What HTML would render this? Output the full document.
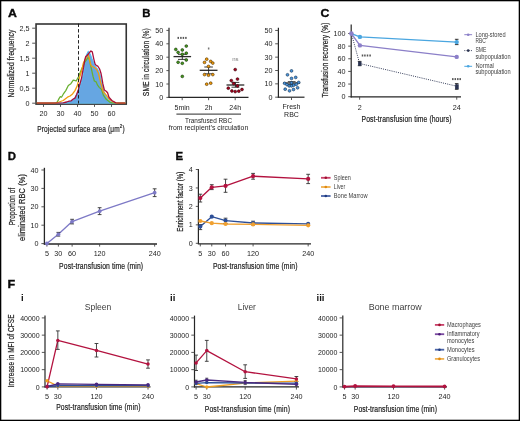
<!DOCTYPE html>
<html><head><meta charset="utf-8"><style>
html,body{margin:0;padding:0;background:#fff;}
body{width:520px;height:421px;overflow:hidden;}
svg{display:block;font-family:"Liberation Sans", sans-serif;will-change:transform;}
</style></head><body>
<svg width="520" height="421" viewBox="0 0 520 421">
<rect x="0" y="0" width="520" height="421" fill="#fff"/>
<text transform="translate(7.9,16.9) scale(1.08,1)" x="0" y="0" font-size="11.4" font-weight="bold" fill="#0a0a0a" stroke="#0a0a0a" stroke-width="0.35">A</text>
<text transform="translate(142.2,17.1) scale(1.0,1)" x="0" y="0" font-size="11.4" font-weight="bold" fill="#0a0a0a" stroke="#0a0a0a" stroke-width="0.35">B</text>
<text transform="translate(320.5,17.1) scale(1.08,1)" x="0" y="0" font-size="11.4" font-weight="bold" fill="#0a0a0a" stroke="#0a0a0a" stroke-width="0.35">C</text>
<text transform="translate(7.8,160.0) scale(1.0,1)" x="0" y="0" font-size="11.4" font-weight="bold" fill="#0a0a0a" stroke="#0a0a0a" stroke-width="0.35">D</text>
<text transform="translate(175.5,160.0) scale(1.0,1)" x="0" y="0" font-size="11.4" font-weight="bold" fill="#0a0a0a" stroke="#0a0a0a" stroke-width="0.35">E</text>
<text transform="translate(7.4,287.9) scale(1.1,1)" x="0" y="0" font-size="11.4" font-weight="bold" fill="#0a0a0a" stroke="#0a0a0a" stroke-width="0.35">F</text>
<rect x="36.05" y="24.0" width="90.20" height="80.10" fill="none" stroke="#333" stroke-width="1.6"/>
<clipPath id="clipA"><rect x="36.8" y="24.8" width="88.6" height="79.0"/></clipPath>
<path d="M 53.70,103.20 L 63.90,102.90 L 67.47,102.00 L 71.55,100.80 L 74.95,98.10 L 77.33,93.00 L 80.05,86.40 L 82.43,78.00 L 83.62,71.70 L 84.98,61.20 L 86.34,55.20 L 88.21,51.60 L 90.25,54.00 L 92.12,59.10 L 94.16,63.90 L 95.52,66.90 L 97.90,69.60 L 99.60,73.20 L 101.30,80.70 L 103.34,89.70 L 105.55,95.70 L 108.10,99.60 L 111.50,102.00 L 114.90,103.20 L 116.60,103.20 Z" fill="#66a6e2" stroke="#56bdf2" stroke-width="1.1" clip-path="url(#clipA)"/>
<polyline points="26.50,103.20 56.25,103.20 57.44,101.70 59.14,98.40 60.33,96.60 61.52,97.20 63.22,94.20 65.77,90.60 68.32,85.50 70.87,83.70 73.25,80.10 74.44,80.40 76.14,81.00 78.35,77.10 79.88,73.20 81.75,68.70 84.98,61.80 88.21,57.30 89.23,59.10 90.25,63.90 91.44,69.00 92.97,76.20 94.33,81.00 96.20,81.90 97.56,85.20 99.43,87.60 101.47,89.40 103.34,95.10 106.23,99.30 109.97,102.30 113.20,103.20 137.00,103.20" fill="none" stroke="#68b030" stroke-width="1.25" stroke-linejoin="round" clip-path="url(#clipA)"/>
<polyline points="26.50,103.20 55.40,103.20 59.14,102.00 63.22,100.50 67.47,97.20 70.02,96.00 72.57,93.90 74.95,90.60 76.99,86.40 78.69,80.40 80.39,74.70 81.92,69.60 83.28,63.30 86.34,56.70 88.21,54.90 89.23,58.20 90.25,63.30 91.44,66.00 94.16,67.50 96.37,69.00 97.73,71.70 98.58,73.50 99.94,79.80 101.47,85.50 103.34,91.80 106.23,95.10 108.95,99.00 112.86,101.70 116.60,103.20 137.00,103.20" fill="none" stroke="#f39a10" stroke-width="1.3" stroke-linejoin="round" clip-path="url(#clipA)"/>
<polyline points="26.50,103.20 60.50,103.20 63.22,102.90 66.62,102.00 69.17,101.10 71.21,100.80 72.91,99.30 74.95,98.10 76.65,94.50 78.35,89.70 79.88,84.00 81.58,78.00 82.43,73.20 83.62,67.20 84.64,60.60 85.66,56.70 87.02,55.50 89.23,52.80 90.93,51.00 92.29,51.90 93.82,59.10 95.01,63.90 96.37,65.70 97.73,66.00 99.60,69.00 100.96,73.20 101.81,77.70 102.83,83.70 104.36,90.00 106.23,91.20 107.59,92.70 108.95,97.20 111.84,100.50 115.75,102.90 118.30,103.20 137.00,103.20" fill="none" stroke="#a80f3c" stroke-width="1.3" stroke-linejoin="round" clip-path="url(#clipA)"/>
<line x1="78.5" y1="23.6" x2="78.5" y2="103.5" stroke="#1a1a1a" stroke-width="0.95" stroke-dasharray="3.4,2.1"/>
<line x1="32.2" y1="103.2" x2="35.5" y2="103.2" stroke="#444444" stroke-width="0.9" />
<text x="29.6" y="105.8" font-size="7.2" text-anchor="end" font-weight="normal" fill="#242424" >0</text>
<line x1="32.2" y1="88.2" x2="35.5" y2="88.2" stroke="#444444" stroke-width="0.9" />
<text x="29.6" y="90.8" font-size="7.2" text-anchor="end" font-weight="normal" fill="#242424" >0,5</text>
<line x1="32.2" y1="73.2" x2="35.5" y2="73.2" stroke="#444444" stroke-width="0.9" />
<text x="29.6" y="75.8" font-size="7.2" text-anchor="end" font-weight="normal" fill="#242424" >1</text>
<line x1="32.2" y1="58.2" x2="35.5" y2="58.2" stroke="#444444" stroke-width="0.9" />
<text x="29.6" y="60.800000000000004" font-size="7.2" text-anchor="end" font-weight="normal" fill="#242424" >1,5</text>
<line x1="32.2" y1="43.2" x2="35.5" y2="43.2" stroke="#444444" stroke-width="0.9" />
<text x="29.6" y="45.800000000000004" font-size="7.2" text-anchor="end" font-weight="normal" fill="#242424" >2</text>
<line x1="32.2" y1="28.200000000000003" x2="35.5" y2="28.200000000000003" stroke="#444444" stroke-width="0.9" />
<text x="29.6" y="30.800000000000004" font-size="7.2" text-anchor="end" font-weight="normal" fill="#242424" >2,5</text>
<line x1="43.5" y1="104.5" x2="43.5" y2="106.9" stroke="#444444" stroke-width="0.9" />
<text x="43.5" y="116.3" font-size="7.2" text-anchor="middle" font-weight="normal" fill="#242424" >20</text>
<line x1="60.5" y1="104.5" x2="60.5" y2="106.9" stroke="#444444" stroke-width="0.9" />
<text x="60.5" y="116.3" font-size="7.2" text-anchor="middle" font-weight="normal" fill="#242424" >30</text>
<line x1="77.5" y1="104.5" x2="77.5" y2="106.9" stroke="#444444" stroke-width="0.9" />
<text x="77.5" y="116.3" font-size="7.2" text-anchor="middle" font-weight="normal" fill="#242424" >40</text>
<line x1="94.5" y1="104.5" x2="94.5" y2="106.9" stroke="#444444" stroke-width="0.9" />
<text x="94.5" y="116.3" font-size="7.2" text-anchor="middle" font-weight="normal" fill="#242424" >50</text>
<line x1="111.5" y1="104.5" x2="111.5" y2="106.9" stroke="#444444" stroke-width="0.9" />
<text x="111.5" y="116.3" font-size="7.2" text-anchor="middle" font-weight="normal" fill="#242424" >60</text>
<text transform="translate(37.2,131.5) scale(0.728,1)" x="0" y="0" font-size="9.0" text-anchor="start" font-weight="normal" fill="#242424" stroke="#242424" stroke-width="0.22" textLength="120.19" lengthAdjust="spacing" >Projected surface area (μm<tspan font-size="6.2" dy="-3.4">2</tspan><tspan dy="3.4">)</tspan></text>
<text transform="translate(13.8,63.5) rotate(-90) scale(0.771,1)" x="0" y="0" font-size="8.8" text-anchor="middle" font-weight="normal" fill="#242424" stroke="#242424" stroke-width="0.22" textLength="88.20" lengthAdjust="spacing" >Normalized frequency</text>
<line x1="169" y1="27.8" x2="169" y2="98" stroke="#262626" stroke-width="1.2" />
<line x1="168.4" y1="97.4" x2="248.5" y2="97.4" stroke="#262626" stroke-width="1.2" />
<line x1="166.4" y1="97.4" x2="169" y2="97.4" stroke="#444444" stroke-width="0.9" />
<text x="163.2" y="100.0" font-size="7.2" text-anchor="end" font-weight="normal" fill="#242424" >0</text>
<line x1="166.4" y1="84.0" x2="169" y2="84.0" stroke="#444444" stroke-width="0.9" />
<text x="163.2" y="86.6" font-size="7.2" text-anchor="end" font-weight="normal" fill="#242424" >10</text>
<line x1="166.4" y1="70.60000000000001" x2="169" y2="70.60000000000001" stroke="#444444" stroke-width="0.9" />
<text x="163.2" y="73.2" font-size="7.2" text-anchor="end" font-weight="normal" fill="#242424" >20</text>
<line x1="166.4" y1="57.2" x2="169" y2="57.2" stroke="#444444" stroke-width="0.9" />
<text x="163.2" y="59.800000000000004" font-size="7.2" text-anchor="end" font-weight="normal" fill="#242424" >30</text>
<line x1="166.4" y1="43.800000000000004" x2="169" y2="43.800000000000004" stroke="#444444" stroke-width="0.9" />
<text x="163.2" y="46.400000000000006" font-size="7.2" text-anchor="end" font-weight="normal" fill="#242424" >40</text>
<line x1="166.4" y1="30.400000000000006" x2="169" y2="30.400000000000006" stroke="#444444" stroke-width="0.9" />
<text x="163.2" y="33.00000000000001" font-size="7.2" text-anchor="end" font-weight="normal" fill="#242424" >50</text>
<line x1="182.2" y1="97.4" x2="182.2" y2="100.2" stroke="#444444" stroke-width="0.9" />
<text x="182.2" y="109.6" font-size="7.0" text-anchor="middle" font-weight="normal" fill="#242424" >5min</text>
<line x1="208.6" y1="97.4" x2="208.6" y2="100.2" stroke="#444444" stroke-width="0.9" />
<text x="208.6" y="109.6" font-size="7.0" text-anchor="middle" font-weight="normal" fill="#242424" >2h</text>
<line x1="235.2" y1="97.4" x2="235.2" y2="100.2" stroke="#444444" stroke-width="0.9" />
<text x="235.2" y="109.6" font-size="7.0" text-anchor="middle" font-weight="normal" fill="#242424" >24h</text>
<line x1="176.4" y1="114.2" x2="241" y2="114.2" stroke="#555" stroke-width="1.2" />
<text x="208.5" y="123.1" font-size="7.0" text-anchor="middle" font-weight="normal" fill="#242424" textLength="47" lengthAdjust="spacingAndGlyphs" >Transfused RBC</text>
<text x="208.5" y="130.3" font-size="7.0" text-anchor="middle" font-weight="normal" fill="#242424" textLength="79.5" lengthAdjust="spacingAndGlyphs" >from recipient’s circulation</text>
<text transform="translate(149.4,62.2) rotate(-90) scale(0.762,1)" x="0" y="0" font-size="8.8" text-anchor="middle" font-weight="normal" fill="#242424" stroke="#242424" stroke-width="0.22" textLength="89.24" lengthAdjust="spacing" >SME in circulation (%)</text>
<line x1="173.5" y1="56.6" x2="191.10000000000002" y2="56.6" stroke="#2a2a2a" stroke-width="1.3" />
<line x1="178.0" y1="54.3" x2="186.60000000000002" y2="54.3" stroke="#222" stroke-width="0.9" />
<line x1="178.0" y1="59.4" x2="186.60000000000002" y2="59.4" stroke="#222" stroke-width="0.9" />
<line x1="182.3" y1="54.3" x2="182.3" y2="59.4" stroke="#222" stroke-width="0.9" />
<line x1="199.7" y1="70.3" x2="217.5" y2="70.3" stroke="#2a2a2a" stroke-width="1.3" />
<line x1="204.29999999999998" y1="67.0" x2="212.9" y2="67.0" stroke="#222" stroke-width="0.9" />
<line x1="204.29999999999998" y1="73.8" x2="212.9" y2="73.8" stroke="#222" stroke-width="0.9" />
<line x1="208.6" y1="67.0" x2="208.6" y2="73.8" stroke="#222" stroke-width="0.9" />
<line x1="226.5" y1="85.0" x2="244.3" y2="85.0" stroke="#2a2a2a" stroke-width="1.3" />
<line x1="231.5" y1="82.4" x2="239.3" y2="82.4" stroke="#222" stroke-width="0.9" />
<line x1="231.5" y1="87.2" x2="239.3" y2="87.2" stroke="#222" stroke-width="0.9" />
<line x1="235.4" y1="82.4" x2="235.4" y2="87.2" stroke="#222" stroke-width="0.9" />
<line x1="283.3" y1="83.0" x2="300.09999999999997" y2="83.0" stroke="#2a2a2a" stroke-width="1.3" />
<line x1="287.8" y1="81.7" x2="295.59999999999997" y2="81.7" stroke="#222" stroke-width="0.9" />
<line x1="287.8" y1="84.6" x2="295.59999999999997" y2="84.6" stroke="#222" stroke-width="0.9" />
<line x1="291.7" y1="81.7" x2="291.7" y2="84.6" stroke="#222" stroke-width="0.9" />
<circle cx="186.30" cy="46.10" r="1.4" fill="#44991c" stroke="#1a300c" stroke-width="0.6"/>
<circle cx="175.80" cy="49.40" r="1.4" fill="#44991c" stroke="#1a300c" stroke-width="0.6"/>
<circle cx="182.30" cy="50.00" r="1.4" fill="#44991c" stroke="#1a300c" stroke-width="0.6"/>
<circle cx="178.10" cy="52.40" r="1.4" fill="#44991c" stroke="#1a300c" stroke-width="0.6"/>
<circle cx="186.30" cy="53.20" r="1.4" fill="#44991c" stroke="#1a300c" stroke-width="0.6"/>
<circle cx="182.30" cy="54.30" r="1.4" fill="#44991c" stroke="#1a300c" stroke-width="0.6"/>
<circle cx="186.30" cy="60.00" r="1.4" fill="#44991c" stroke="#1a300c" stroke-width="0.6"/>
<circle cx="178.10" cy="62.30" r="1.4" fill="#44991c" stroke="#1a300c" stroke-width="0.6"/>
<circle cx="182.30" cy="63.30" r="1.4" fill="#44991c" stroke="#1a300c" stroke-width="0.6"/>
<circle cx="182.30" cy="76.40" r="1.4" fill="#44991c" stroke="#1a300c" stroke-width="0.6"/>
<circle cx="206.70" cy="59.20" r="1.4" fill="#f29a0c" stroke="#4a3000" stroke-width="0.6"/>
<circle cx="204.50" cy="62.40" r="1.4" fill="#f29a0c" stroke="#4a3000" stroke-width="0.6"/>
<circle cx="210.70" cy="61.40" r="1.4" fill="#f29a0c" stroke="#4a3000" stroke-width="0.6"/>
<circle cx="212.80" cy="63.10" r="1.4" fill="#f29a0c" stroke="#4a3000" stroke-width="0.6"/>
<circle cx="208.50" cy="66.40" r="1.4" fill="#f29a0c" stroke="#4a3000" stroke-width="0.6"/>
<circle cx="204.50" cy="74.60" r="1.4" fill="#f29a0c" stroke="#4a3000" stroke-width="0.6"/>
<circle cx="208.50" cy="75.20" r="1.4" fill="#f29a0c" stroke="#4a3000" stroke-width="0.6"/>
<circle cx="212.80" cy="74.60" r="1.4" fill="#f29a0c" stroke="#4a3000" stroke-width="0.6"/>
<circle cx="206.70" cy="84.20" r="1.4" fill="#f29a0c" stroke="#4a3000" stroke-width="0.6"/>
<circle cx="210.70" cy="83.20" r="1.4" fill="#f29a0c" stroke="#4a3000" stroke-width="0.6"/>
<circle cx="235.20" cy="69.60" r="1.4" fill="#a8001e" stroke="#300006" stroke-width="0.6"/>
<circle cx="231.30" cy="80.60" r="1.4" fill="#a8001e" stroke="#300006" stroke-width="0.6"/>
<circle cx="237.50" cy="79.10" r="1.4" fill="#a8001e" stroke="#300006" stroke-width="0.6"/>
<circle cx="233.70" cy="83.60" r="1.4" fill="#a8001e" stroke="#300006" stroke-width="0.6"/>
<circle cx="237.50" cy="85.90" r="1.4" fill="#a8001e" stroke="#300006" stroke-width="0.6"/>
<circle cx="228.30" cy="88.20" r="1.4" fill="#a8001e" stroke="#300006" stroke-width="0.6"/>
<circle cx="242.00" cy="89.50" r="1.4" fill="#a8001e" stroke="#300006" stroke-width="0.6"/>
<circle cx="231.90" cy="91.00" r="1.4" fill="#a8001e" stroke="#300006" stroke-width="0.6"/>
<circle cx="235.20" cy="91.60" r="1.4" fill="#a8001e" stroke="#300006" stroke-width="0.6"/>
<circle cx="238.80" cy="91.20" r="1.4" fill="#a8001e" stroke="#300006" stroke-width="0.6"/>
<circle cx="291.50" cy="70.90" r="1.4" fill="#4a94dc" stroke="#12304f" stroke-width="0.6"/>
<circle cx="287.50" cy="74.80" r="1.4" fill="#4a94dc" stroke="#12304f" stroke-width="0.6"/>
<circle cx="295.70" cy="77.40" r="1.4" fill="#4a94dc" stroke="#12304f" stroke-width="0.6"/>
<circle cx="291.50" cy="78.40" r="1.4" fill="#4a94dc" stroke="#12304f" stroke-width="0.6"/>
<circle cx="284.60" cy="83.30" r="1.4" fill="#4a94dc" stroke="#12304f" stroke-width="0.6"/>
<circle cx="298.70" cy="82.40" r="1.4" fill="#4a94dc" stroke="#12304f" stroke-width="0.6"/>
<circle cx="286.90" cy="84.60" r="1.4" fill="#4a94dc" stroke="#12304f" stroke-width="0.6"/>
<circle cx="289.20" cy="85.90" r="1.4" fill="#4a94dc" stroke="#12304f" stroke-width="0.6"/>
<circle cx="291.50" cy="85.90" r="1.4" fill="#4a94dc" stroke="#12304f" stroke-width="0.6"/>
<circle cx="293.70" cy="85.20" r="1.4" fill="#4a94dc" stroke="#12304f" stroke-width="0.6"/>
<circle cx="296.30" cy="84.30" r="1.4" fill="#4a94dc" stroke="#12304f" stroke-width="0.6"/>
<circle cx="285.20" cy="89.20" r="1.4" fill="#4a94dc" stroke="#12304f" stroke-width="0.6"/>
<circle cx="289.50" cy="90.80" r="1.4" fill="#4a94dc" stroke="#12304f" stroke-width="0.6"/>
<circle cx="293.50" cy="89.50" r="1.4" fill="#4a94dc" stroke="#12304f" stroke-width="0.6"/>
<circle cx="297.60" cy="87.80" r="1.4" fill="#4a94dc" stroke="#12304f" stroke-width="0.6"/>
<circle cx="291.50" cy="82.80" r="1.4" fill="#4a94dc" stroke="#12304f" stroke-width="0.6"/>
<rect x="177.50" y="36.90" width="1.5" height="2.0" fill="#555"/>
<rect x="180.15" y="36.90" width="1.5" height="2.0" fill="#555"/>
<rect x="182.65" y="36.90" width="1.5" height="2.0" fill="#555"/>
<rect x="185.15" y="36.90" width="1.5" height="2.0" fill="#555"/>
<rect x="207.90" y="47.50" width="1.5" height="2.0" fill="#777"/>
<text x="235.3" y="60.5" font-size="6.0" text-anchor="middle" font-weight="normal" fill="#7a7a7a" >ns</text>
<line x1="278.4" y1="27.7" x2="278.4" y2="97.8" stroke="#262626" stroke-width="1.2" />
<line x1="277.8" y1="97.2" x2="304.5" y2="97.2" stroke="#262626" stroke-width="1.2" />
<line x1="275.2" y1="97.2" x2="278.4" y2="97.2" stroke="#444444" stroke-width="0.9" />
<text x="272.4" y="99.8" font-size="7.2" text-anchor="end" font-weight="normal" fill="#242424" >0</text>
<line x1="275.2" y1="83.85000000000001" x2="278.4" y2="83.85000000000001" stroke="#444444" stroke-width="0.9" />
<text x="272.4" y="86.45" font-size="7.2" text-anchor="end" font-weight="normal" fill="#242424" >10</text>
<line x1="275.2" y1="70.5" x2="278.4" y2="70.5" stroke="#444444" stroke-width="0.9" />
<text x="272.4" y="73.1" font-size="7.2" text-anchor="end" font-weight="normal" fill="#242424" >20</text>
<line x1="275.2" y1="57.150000000000006" x2="278.4" y2="57.150000000000006" stroke="#444444" stroke-width="0.9" />
<text x="272.4" y="59.75000000000001" font-size="7.2" text-anchor="end" font-weight="normal" fill="#242424" >30</text>
<line x1="275.2" y1="43.800000000000004" x2="278.4" y2="43.800000000000004" stroke="#444444" stroke-width="0.9" />
<text x="272.4" y="46.400000000000006" font-size="7.2" text-anchor="end" font-weight="normal" fill="#242424" >40</text>
<line x1="275.2" y1="30.450000000000003" x2="278.4" y2="30.450000000000003" stroke="#444444" stroke-width="0.9" />
<text x="272.4" y="33.050000000000004" font-size="7.2" text-anchor="end" font-weight="normal" fill="#242424" >50</text>
<line x1="291.5" y1="97.2" x2="291.5" y2="100" stroke="#444444" stroke-width="0.9" />
<text x="291.5" y="108.9" font-size="7.0" text-anchor="middle" font-weight="normal" fill="#242424" >Fresh</text>
<text x="291.5" y="117.2" font-size="7.0" text-anchor="middle" font-weight="normal" fill="#242424" >RBC</text>
<line x1="351.2" y1="24.5" x2="351.2" y2="97.5" stroke="#262626" stroke-width="1.2" />
<line x1="350.6" y1="96.9" x2="461" y2="96.9" stroke="#262626" stroke-width="1.2" />
<line x1="348.2" y1="96.7" x2="351.2" y2="96.7" stroke="#444444" stroke-width="0.9" />
<text x="345.4" y="99.3" font-size="7.2" text-anchor="end" font-weight="normal" fill="#242424" >0</text>
<line x1="348.2" y1="84.06" x2="351.2" y2="84.06" stroke="#444444" stroke-width="0.9" />
<text x="345.4" y="86.66" font-size="7.2" text-anchor="end" font-weight="normal" fill="#242424" >20</text>
<line x1="348.2" y1="71.42" x2="351.2" y2="71.42" stroke="#444444" stroke-width="0.9" />
<text x="345.4" y="74.02" font-size="7.2" text-anchor="end" font-weight="normal" fill="#242424" >40</text>
<line x1="348.2" y1="58.78" x2="351.2" y2="58.78" stroke="#444444" stroke-width="0.9" />
<text x="345.4" y="61.38" font-size="7.2" text-anchor="end" font-weight="normal" fill="#242424" >60</text>
<line x1="348.2" y1="46.14" x2="351.2" y2="46.14" stroke="#444444" stroke-width="0.9" />
<text x="345.4" y="48.74" font-size="7.2" text-anchor="end" font-weight="normal" fill="#242424" >80</text>
<line x1="348.2" y1="33.5" x2="351.2" y2="33.5" stroke="#444444" stroke-width="0.9" />
<text x="345.4" y="36.1" font-size="7.2" text-anchor="end" font-weight="normal" fill="#242424" >100</text>
<line x1="359.628" y1="96.9" x2="359.628" y2="99.7" stroke="#444444" stroke-width="0.9" />
<text x="359.628" y="109.9" font-size="7.2" text-anchor="middle" font-weight="normal" fill="#242424" >2</text>
<line x1="456.736" y1="96.9" x2="456.736" y2="99.7" stroke="#444444" stroke-width="0.9" />
<text x="456.736" y="109.9" font-size="7.2" text-anchor="middle" font-weight="normal" fill="#242424" >24</text>
<text transform="translate(406.5,121.5) scale(0.756,1)" x="0" y="0" font-size="9.0" text-anchor="middle" font-weight="normal" fill="#242424" stroke="#242424" stroke-width="0.22" textLength="119.05" lengthAdjust="spacing" >Post-transfusion time (hours)</text>
<text transform="translate(328.2,60.1) rotate(-90) scale(0.743,1)" x="0" y="0" font-size="8.8" text-anchor="middle" font-weight="normal" fill="#242424" stroke="#242424" stroke-width="0.22" textLength="100.94" lengthAdjust="spacing" >Transfusion recovery (%)</text>
<polyline points="351.40,33.60 359.60,63.50 456.70,86.20" fill="none" stroke="#2a3350" stroke-width="0.95" stroke-linejoin="round" stroke-dasharray="1.0,1.2"/>
<polyline points="351.40,33.60 359.90,45.40 456.70,56.90" fill="none" stroke="#8b7fc8" stroke-width="1.4" stroke-linejoin="round" />
<polyline points="351.40,33.60 359.90,36.90 456.70,42.10" fill="none" stroke="#4aa6e0" stroke-width="1.4" stroke-linejoin="round" />
<line x1="456.7" y1="39.3" x2="456.7" y2="44.6" stroke="#222" stroke-width="0.9" />
<line x1="454.9" y1="39.3" x2="458.5" y2="39.3" stroke="#222" stroke-width="0.9" />
<line x1="454.9" y1="44.6" x2="458.5" y2="44.6" stroke="#222" stroke-width="0.9" />
<line x1="359.6" y1="61.4" x2="359.6" y2="65.7" stroke="#222" stroke-width="0.9" />
<line x1="357.8" y1="61.4" x2="361.40000000000003" y2="61.4" stroke="#222" stroke-width="0.9" />
<line x1="357.8" y1="65.7" x2="361.40000000000003" y2="65.7" stroke="#222" stroke-width="0.9" />
<line x1="456.7" y1="83.6" x2="456.7" y2="89.3" stroke="#222" stroke-width="0.9" />
<line x1="454.9" y1="83.6" x2="458.5" y2="83.6" stroke="#222" stroke-width="0.9" />
<line x1="454.9" y1="89.3" x2="458.5" y2="89.3" stroke="#222" stroke-width="0.9" />
<circle cx="351.40" cy="33.60" r="2.3" fill="#8b7fc8"/>
<circle cx="359.90" cy="36.90" r="2.2" fill="#4aa6e0"/>
<circle cx="359.90" cy="45.40" r="2.2" fill="#8b7fc8"/>
<circle cx="456.70" cy="56.90" r="2.2" fill="#8b7fc8"/>
<circle cx="456.70" cy="42.10" r="2.2" fill="#4aa6e0"/>
<rect x="358.1" y="61.6" width="3.4" height="4.2" fill="#2a3350"/>
<rect x="455.1" y="84.3" width="3.6" height="4.8" fill="#2a3350"/>
<rect x="361.75" y="54.50" width="1.5" height="2.0" fill="#555"/>
<rect x="364.15" y="54.50" width="1.5" height="2.0" fill="#555"/>
<rect x="366.75" y="54.50" width="1.5" height="2.0" fill="#555"/>
<rect x="369.35" y="54.50" width="1.5" height="2.0" fill="#555"/>
<rect x="452.05" y="78.10" width="1.5" height="2.0" fill="#555"/>
<rect x="454.55" y="78.10" width="1.5" height="2.0" fill="#555"/>
<rect x="457.05" y="78.10" width="1.5" height="2.0" fill="#555"/>
<rect x="459.45" y="78.10" width="1.5" height="2.0" fill="#555"/>
<line x1="464.3" y1="34.7" x2="472.1" y2="34.7" stroke="#8b7fc8" stroke-width="1.0" />
<circle cx="468.20" cy="34.70" r="1.3" fill="#8b7fc8"/>
<line x1="464.3" y1="50.6" x2="472.1" y2="50.6" stroke="#2a3350" stroke-width="0.9" stroke-dasharray="1,1.2"/>
<circle cx="468.20" cy="50.60" r="1.3" fill="#2a3350"/>
<line x1="464.3" y1="66.3" x2="472.1" y2="66.3" stroke="#4aa6e0" stroke-width="1.0" />
<circle cx="468.20" cy="66.30" r="1.3" fill="#4aa6e0"/>
<text x="475.4" y="36.6" font-size="6.3" text-anchor="start" font-weight="normal" fill="#3d3d3d" textLength="30.2" lengthAdjust="spacingAndGlyphs" >Long-stored</text>
<text x="475.4" y="42.7" font-size="6.3" text-anchor="start" font-weight="normal" fill="#3d3d3d" textLength="10.3" lengthAdjust="spacingAndGlyphs" >RBC</text>
<text x="475.4" y="52.4" font-size="6.3" text-anchor="start" font-weight="normal" fill="#3d3d3d" textLength="11.0" lengthAdjust="spacingAndGlyphs" >SME</text>
<text x="475.4" y="58.5" font-size="6.3" text-anchor="start" font-weight="normal" fill="#3d3d3d" textLength="35.2" lengthAdjust="spacingAndGlyphs" >subpopulation</text>
<text x="475.4" y="68.0" font-size="6.3" text-anchor="start" font-weight="normal" fill="#3d3d3d" textLength="18.5" lengthAdjust="spacingAndGlyphs" >Normal</text>
<text x="475.4" y="74.1" font-size="6.3" text-anchor="start" font-weight="normal" fill="#3d3d3d" textLength="35.2" lengthAdjust="spacingAndGlyphs" >subpopulation</text>
<line x1="44.4" y1="167.8" x2="44.4" y2="244.6" stroke="#262626" stroke-width="1.3" />
<line x1="43.8" y1="244.0" x2="157" y2="244.0" stroke="#262626" stroke-width="1.3" />
<line x1="41.4" y1="243.6" x2="44.4" y2="243.6" stroke="#444444" stroke-width="0.9" />
<text x="38.4" y="246.2" font-size="7.2" text-anchor="end" font-weight="normal" fill="#242424" >0</text>
<line x1="41.4" y1="225.2" x2="44.4" y2="225.2" stroke="#444444" stroke-width="0.9" />
<text x="38.4" y="227.79999999999998" font-size="7.2" text-anchor="end" font-weight="normal" fill="#242424" >10</text>
<line x1="41.4" y1="206.79999999999998" x2="44.4" y2="206.79999999999998" stroke="#444444" stroke-width="0.9" />
<text x="38.4" y="209.39999999999998" font-size="7.2" text-anchor="end" font-weight="normal" fill="#242424" >20</text>
<line x1="41.4" y1="188.39999999999998" x2="44.4" y2="188.39999999999998" stroke="#444444" stroke-width="0.9" />
<text x="38.4" y="190.99999999999997" font-size="7.2" text-anchor="end" font-weight="normal" fill="#242424" >30</text>
<line x1="41.4" y1="170.0" x2="44.4" y2="170.0" stroke="#444444" stroke-width="0.9" />
<text x="38.4" y="172.6" font-size="7.2" text-anchor="end" font-weight="normal" fill="#242424" >40</text>
<line x1="46.9" y1="244.0" x2="46.9" y2="246.6" stroke="#444444" stroke-width="0.9" />
<text x="46.9" y="256.2" font-size="7.2" text-anchor="middle" font-weight="normal" fill="#242424" >5</text>
<line x1="58.3625" y1="244.0" x2="58.3625" y2="246.6" stroke="#444444" stroke-width="0.9" />
<text x="58.3625" y="256.2" font-size="7.2" text-anchor="middle" font-weight="normal" fill="#242424" >30</text>
<line x1="72.1175" y1="244.0" x2="72.1175" y2="246.6" stroke="#444444" stroke-width="0.9" />
<text x="72.1175" y="256.2" font-size="7.2" text-anchor="middle" font-weight="normal" fill="#242424" >60</text>
<line x1="99.6275" y1="244.0" x2="99.6275" y2="246.6" stroke="#444444" stroke-width="0.9" />
<text x="99.6275" y="256.2" font-size="7.2" text-anchor="middle" font-weight="normal" fill="#242424" >120</text>
<line x1="154.6475" y1="244.0" x2="154.6475" y2="246.6" stroke="#444444" stroke-width="0.9" />
<text x="154.6475" y="256.2" font-size="7.2" text-anchor="middle" font-weight="normal" fill="#242424" >240</text>
<text transform="translate(101.1,268.5) scale(0.758,1)" x="0" y="0" font-size="9.0" text-anchor="middle" font-weight="normal" fill="#242424" stroke="#242424" stroke-width="0.22" textLength="110.82" lengthAdjust="spacing" >Post-transfusion time (min)</text>
<text transform="translate(14.5,206.5) rotate(-90) scale(0.72,1)" x="0" y="0" font-size="8.8" text-anchor="middle" font-weight="normal" fill="#242424" stroke="#242424" stroke-width="0.22" textLength="51.94" lengthAdjust="spacing" >Proportion of</text>
<text transform="translate(24.6,207.5) rotate(-90) scale(0.841,1)" x="0" y="0" font-size="8.8" text-anchor="middle" font-weight="normal" fill="#242424" stroke="#242424" stroke-width="0.22" textLength="79.67" lengthAdjust="spacing" >eliminated RBC (%)</text>
<polyline points="46.90,243.50 58.36,234.30 72.12,221.60 99.63,211.20 154.65,192.70" fill="none" stroke="#7d79c6" stroke-width="1.3" stroke-linejoin="round" />
<line x1="58.3625" y1="232.4" x2="58.3625" y2="236.1" stroke="#333" stroke-width="0.9" />
<line x1="56.4625" y1="232.4" x2="60.262499999999996" y2="232.4" stroke="#333" stroke-width="0.9" />
<line x1="56.4625" y1="236.1" x2="60.262499999999996" y2="236.1" stroke="#333" stroke-width="0.9" />
<line x1="72.1175" y1="219.3" x2="72.1175" y2="223.9" stroke="#333" stroke-width="0.9" />
<line x1="70.2175" y1="219.3" x2="74.01750000000001" y2="219.3" stroke="#333" stroke-width="0.9" />
<line x1="70.2175" y1="223.9" x2="74.01750000000001" y2="223.9" stroke="#333" stroke-width="0.9" />
<line x1="99.6275" y1="207.7" x2="99.6275" y2="214.6" stroke="#333" stroke-width="0.9" />
<line x1="97.72749999999999" y1="207.7" x2="101.5275" y2="207.7" stroke="#333" stroke-width="0.9" />
<line x1="97.72749999999999" y1="214.6" x2="101.5275" y2="214.6" stroke="#333" stroke-width="0.9" />
<line x1="154.6475" y1="188.8" x2="154.6475" y2="196.6" stroke="#333" stroke-width="0.9" />
<line x1="152.7475" y1="188.8" x2="156.5475" y2="188.8" stroke="#333" stroke-width="0.9" />
<line x1="152.7475" y1="196.6" x2="156.5475" y2="196.6" stroke="#333" stroke-width="0.9" />
<circle cx="46.90" cy="243.50" r="1.9" fill="#7d79c6"/>
<circle cx="58.36" cy="234.30" r="1.9" fill="#7d79c6"/>
<circle cx="72.12" cy="221.60" r="1.9" fill="#7d79c6"/>
<circle cx="99.63" cy="211.20" r="1.9" fill="#7d79c6"/>
<circle cx="154.65" cy="192.70" r="1.9" fill="#7d79c6"/>
<line x1="198.4" y1="169.0" x2="198.4" y2="243.9" stroke="#262626" stroke-width="1.2" />
<line x1="197.8" y1="243.8" x2="311" y2="243.8" stroke="#262626" stroke-width="1.3" />
<line x1="195.8" y1="243.3" x2="198.4" y2="243.3" stroke="#444444" stroke-width="0.9" />
<text x="192.8" y="245.9" font-size="7.2" text-anchor="end" font-weight="normal" fill="#242424" >0</text>
<line x1="195.8" y1="224.85000000000002" x2="198.4" y2="224.85000000000002" stroke="#444444" stroke-width="0.9" />
<text x="192.8" y="227.45000000000002" font-size="7.2" text-anchor="end" font-weight="normal" fill="#242424" >1</text>
<line x1="195.8" y1="206.4" x2="198.4" y2="206.4" stroke="#444444" stroke-width="0.9" />
<text x="192.8" y="209.0" font-size="7.2" text-anchor="end" font-weight="normal" fill="#242424" >2</text>
<line x1="195.8" y1="187.95000000000002" x2="198.4" y2="187.95000000000002" stroke="#444444" stroke-width="0.9" />
<text x="192.8" y="190.55" font-size="7.2" text-anchor="end" font-weight="normal" fill="#242424" >3</text>
<line x1="195.8" y1="169.5" x2="198.4" y2="169.5" stroke="#444444" stroke-width="0.9" />
<text x="192.8" y="172.1" font-size="7.2" text-anchor="end" font-weight="normal" fill="#242424" >4</text>
<line x1="200.3" y1="243.8" x2="200.3" y2="246.4" stroke="#444444" stroke-width="0.9" />
<text x="200.3" y="256.2" font-size="7.2" text-anchor="middle" font-weight="normal" fill="#242424" >5</text>
<line x1="211.775" y1="243.8" x2="211.775" y2="246.4" stroke="#444444" stroke-width="0.9" />
<text x="211.775" y="256.2" font-size="7.2" text-anchor="middle" font-weight="normal" fill="#242424" >30</text>
<line x1="225.54500000000002" y1="243.8" x2="225.54500000000002" y2="246.4" stroke="#444444" stroke-width="0.9" />
<text x="225.54500000000002" y="256.2" font-size="7.2" text-anchor="middle" font-weight="normal" fill="#242424" >60</text>
<line x1="253.085" y1="243.8" x2="253.085" y2="246.4" stroke="#444444" stroke-width="0.9" />
<text x="253.085" y="256.2" font-size="7.2" text-anchor="middle" font-weight="normal" fill="#242424" >120</text>
<line x1="308.165" y1="243.8" x2="308.165" y2="246.4" stroke="#444444" stroke-width="0.9" />
<text x="308.165" y="256.2" font-size="7.2" text-anchor="middle" font-weight="normal" fill="#242424" >240</text>
<text transform="translate(255.2,268.5) scale(0.758,1)" x="0" y="0" font-size="9.0" text-anchor="middle" font-weight="normal" fill="#242424" stroke="#242424" stroke-width="0.22" textLength="111.48" lengthAdjust="spacing" >Post-transfusion time (min)</text>
<text transform="translate(183.0,201.7) rotate(-90) scale(0.684,1)" x="0" y="0" font-size="8.8" text-anchor="middle" font-weight="normal" fill="#242424" stroke="#242424" stroke-width="0.22" textLength="87.72" lengthAdjust="spacing" >Enrichment factor (%)</text>
<polyline points="200.30,198.10 211.78,187.30 225.55,185.90 253.09,176.20 308.17,178.90" fill="none" stroke="#b3123f" stroke-width="1.35" stroke-linejoin="round" />
<polyline points="200.30,226.60 211.78,216.70 225.55,220.60 253.09,223.00 308.17,223.90" fill="none" stroke="#2d4f98" stroke-width="1.35" stroke-linejoin="round" />
<polyline points="200.30,221.00 211.78,223.20 225.55,224.00 253.09,224.40 308.17,225.30" fill="none" stroke="#f0a030" stroke-width="1.35" stroke-linejoin="round" />
<line x1="200.3" y1="194.2" x2="200.3" y2="202" stroke="#333" stroke-width="0.9" />
<line x1="198.4" y1="194.2" x2="202.20000000000002" y2="194.2" stroke="#333" stroke-width="0.9" />
<line x1="198.4" y1="202" x2="202.20000000000002" y2="202" stroke="#333" stroke-width="0.9" />
<line x1="211.775" y1="184.7" x2="211.775" y2="189.6" stroke="#333" stroke-width="0.9" />
<line x1="209.875" y1="184.7" x2="213.675" y2="184.7" stroke="#333" stroke-width="0.9" />
<line x1="209.875" y1="189.6" x2="213.675" y2="189.6" stroke="#333" stroke-width="0.9" />
<line x1="225.54500000000002" y1="179.2" x2="225.54500000000002" y2="192.3" stroke="#333" stroke-width="0.9" />
<line x1="223.645" y1="179.2" x2="227.44500000000002" y2="179.2" stroke="#333" stroke-width="0.9" />
<line x1="223.645" y1="192.3" x2="227.44500000000002" y2="192.3" stroke="#333" stroke-width="0.9" />
<line x1="253.085" y1="173.4" x2="253.085" y2="179.2" stroke="#333" stroke-width="0.9" />
<line x1="251.185" y1="173.4" x2="254.985" y2="173.4" stroke="#333" stroke-width="0.9" />
<line x1="251.185" y1="179.2" x2="254.985" y2="179.2" stroke="#333" stroke-width="0.9" />
<line x1="308.165" y1="174.3" x2="308.165" y2="183.6" stroke="#333" stroke-width="0.9" />
<line x1="306.26500000000004" y1="174.3" x2="310.065" y2="174.3" stroke="#333" stroke-width="0.9" />
<line x1="306.26500000000004" y1="183.6" x2="310.065" y2="183.6" stroke="#333" stroke-width="0.9" />
<line x1="200.3" y1="224.6" x2="200.3" y2="229.6" stroke="#333" stroke-width="0.9" />
<line x1="198.4" y1="224.6" x2="202.20000000000002" y2="224.6" stroke="#333" stroke-width="0.9" />
<line x1="198.4" y1="229.6" x2="202.20000000000002" y2="229.6" stroke="#333" stroke-width="0.9" />
<line x1="225.54500000000002" y1="218.2" x2="225.54500000000002" y2="223.4" stroke="#333" stroke-width="0.9" />
<line x1="223.645" y1="218.2" x2="227.44500000000002" y2="218.2" stroke="#333" stroke-width="0.9" />
<line x1="223.645" y1="223.4" x2="227.44500000000002" y2="223.4" stroke="#333" stroke-width="0.9" />
<line x1="253.085" y1="221.2" x2="253.085" y2="225.0" stroke="#333" stroke-width="0.9" />
<line x1="251.185" y1="221.2" x2="254.985" y2="221.2" stroke="#333" stroke-width="0.9" />
<line x1="251.185" y1="225.0" x2="254.985" y2="225.0" stroke="#333" stroke-width="0.9" />
<circle cx="200.30" cy="198.10" r="2.1" fill="#b3123f"/>
<circle cx="211.78" cy="187.30" r="2.1" fill="#b3123f"/>
<circle cx="225.55" cy="185.90" r="2.1" fill="#b3123f"/>
<circle cx="253.09" cy="176.20" r="2.1" fill="#b3123f"/>
<circle cx="308.17" cy="178.90" r="2.1" fill="#b3123f"/>
<circle cx="200.30" cy="226.60" r="2.1" fill="#2d4f98"/>
<circle cx="211.78" cy="216.70" r="2.1" fill="#2d4f98"/>
<circle cx="225.55" cy="220.60" r="2.1" fill="#2d4f98"/>
<circle cx="253.09" cy="223.00" r="2.1" fill="#2d4f98"/>
<circle cx="308.17" cy="223.90" r="2.1" fill="#2d4f98"/>
<circle cx="200.30" cy="221.00" r="2.1" fill="#f0a030"/>
<circle cx="211.78" cy="223.20" r="2.1" fill="#f0a030"/>
<circle cx="225.55" cy="224.00" r="2.1" fill="#f0a030"/>
<circle cx="253.09" cy="224.40" r="2.1" fill="#f0a030"/>
<circle cx="308.17" cy="225.30" r="2.1" fill="#f0a030"/>
<line x1="321" y1="177.8" x2="330.6" y2="177.8" stroke="#c8406a" stroke-width="1.8" />
<circle cx="325.80" cy="177.80" r="1.3" fill="#a0102e"/>
<text x="333.8" y="180.0" font-size="6.3" text-anchor="start" font-weight="normal" fill="#3d3d3d" textLength="17" lengthAdjust="spacingAndGlyphs" >Spleen</text>
<line x1="321" y1="187.0" x2="330.6" y2="187.0" stroke="#f0b050" stroke-width="1.8" />
<circle cx="325.80" cy="187.00" r="1.3" fill="#e08a10"/>
<text x="333.8" y="189.2" font-size="6.3" text-anchor="start" font-weight="normal" fill="#3d3d3d" textLength="11.4" lengthAdjust="spacingAndGlyphs" >Liver</text>
<line x1="321" y1="196.0" x2="330.6" y2="196.0" stroke="#4a64a8" stroke-width="1.8" />
<circle cx="325.80" cy="196.00" r="1.3" fill="#1e3a80"/>
<text x="333.8" y="198.2" font-size="6.3" text-anchor="start" font-weight="normal" fill="#3d3d3d" textLength="33.7" lengthAdjust="spacingAndGlyphs" >Bone Marrow</text>
<text x="21.0" y="300.6" font-size="9.5" text-anchor="start" font-weight="bold" fill="#111" >i</text>
<text x="170.0" y="300.6" font-size="9.5" text-anchor="start" font-weight="bold" fill="#111" >ii</text>
<text x="316.6" y="300.6" font-size="9.5" text-anchor="start" font-weight="bold" fill="#111" >iii</text>
<line x1="45.0" y1="315.6" x2="45.0" y2="387.5" stroke="#262626" stroke-width="1.2" />
<line x1="44.4" y1="386.9" x2="150.5" y2="386.9" stroke="#262626" stroke-width="1.2" />
<line x1="41.8" y1="386.9" x2="45.0" y2="386.9" stroke="#444444" stroke-width="0.9" />
<text x="39.6" y="389.5" font-size="7.0" text-anchor="end" font-weight="normal" fill="#242424" >0</text>
<line x1="41.8" y1="369.65" x2="45.0" y2="369.65" stroke="#444444" stroke-width="0.9" />
<text x="39.6" y="372.25" font-size="7.0" text-anchor="end" font-weight="normal" fill="#242424" >10000</text>
<line x1="41.8" y1="352.4" x2="45.0" y2="352.4" stroke="#444444" stroke-width="0.9" />
<text x="39.6" y="355.0" font-size="7.0" text-anchor="end" font-weight="normal" fill="#242424" >20000</text>
<line x1="41.8" y1="335.15" x2="45.0" y2="335.15" stroke="#444444" stroke-width="0.9" />
<text x="39.6" y="337.75" font-size="7.0" text-anchor="end" font-weight="normal" fill="#242424" >30000</text>
<line x1="41.8" y1="317.9" x2="45.0" y2="317.9" stroke="#444444" stroke-width="0.9" />
<text x="39.6" y="320.5" font-size="7.0" text-anchor="end" font-weight="normal" fill="#242424" >40000</text>
<line x1="47.1" y1="386.9" x2="47.1" y2="389.6" stroke="#444444" stroke-width="0.9" />
<text x="47.1" y="398.6" font-size="7.2" text-anchor="middle" font-weight="normal" fill="#242424" >5</text>
<line x1="57.834042553191495" y1="386.9" x2="57.834042553191495" y2="389.6" stroke="#444444" stroke-width="0.9" />
<text x="57.834042553191495" y="398.6" font-size="7.2" text-anchor="middle" font-weight="normal" fill="#242424" >30</text>
<line x1="96.47659574468085" y1="386.9" x2="96.47659574468085" y2="389.6" stroke="#444444" stroke-width="0.9" />
<text x="96.47659574468085" y="398.6" font-size="7.2" text-anchor="middle" font-weight="normal" fill="#242424" >120</text>
<line x1="148.0" y1="386.9" x2="148.0" y2="389.6" stroke="#444444" stroke-width="0.9" />
<text x="148.0" y="398.6" font-size="7.2" text-anchor="middle" font-weight="normal" fill="#242424" >240</text>
<text x="98.0" y="310.2" font-size="9.2" text-anchor="middle" font-weight="normal" fill="#3d3d3d" textLength="26.6" lengthAdjust="spacingAndGlyphs" >Spleen</text>
<text transform="translate(98.3,410.2) scale(0.758,1)" x="0" y="0" font-size="9.0" text-anchor="middle" font-weight="normal" fill="#242424" stroke="#242424" stroke-width="0.22" textLength="111.21" lengthAdjust="spacing" >Post-transfusion time (min)</text>
<text transform="translate(14.2,351.0) rotate(-90) scale(0.735,1)" x="0" y="0" font-size="8.8" text-anchor="middle" font-weight="normal" fill="#242424" stroke="#242424" stroke-width="0.22" textLength="99.32" lengthAdjust="spacing" >Increase in MFI of CFSE</text>
<polyline points="47.10,380.80 57.83,386.00 96.48,386.20 148.00,386.00" fill="none" stroke="#f0a020" stroke-width="1.3" stroke-linejoin="round" />
<polyline points="47.10,386.50 57.83,385.60 96.48,385.60 148.00,385.60" fill="none" stroke="#2d4f98" stroke-width="1.3" stroke-linejoin="round" />
<polyline points="47.10,386.50 57.83,383.80 96.48,384.30 148.00,384.80" fill="none" stroke="#4a2880" stroke-width="1.3" stroke-linejoin="round" />
<polyline points="47.10,386.70 57.83,340.40 96.48,350.40 148.00,364.10" fill="none" stroke="#b3123f" stroke-width="1.3" stroke-linejoin="round" />
<line x1="57.834042553191495" y1="330.9" x2="57.834042553191495" y2="349.4" stroke="#333" stroke-width="0.9" />
<line x1="55.934042553191496" y1="330.9" x2="59.73404255319149" y2="330.9" stroke="#333" stroke-width="0.9" />
<line x1="55.934042553191496" y1="349.4" x2="59.73404255319149" y2="349.4" stroke="#333" stroke-width="0.9" />
<line x1="96.47659574468085" y1="343.5" x2="96.47659574468085" y2="357" stroke="#333" stroke-width="0.9" />
<line x1="94.57659574468084" y1="343.5" x2="98.37659574468086" y2="343.5" stroke="#333" stroke-width="0.9" />
<line x1="94.57659574468084" y1="357" x2="98.37659574468086" y2="357" stroke="#333" stroke-width="0.9" />
<line x1="148.0" y1="359.9" x2="148.0" y2="368.2" stroke="#333" stroke-width="0.9" />
<line x1="146.1" y1="359.9" x2="149.9" y2="359.9" stroke="#333" stroke-width="0.9" />
<line x1="146.1" y1="368.2" x2="149.9" y2="368.2" stroke="#333" stroke-width="0.9" />
<circle cx="47.10" cy="380.80" r="1.75" fill="#f0a020"/>
<circle cx="57.83" cy="386.00" r="1.75" fill="#f0a020"/>
<circle cx="96.48" cy="386.20" r="1.75" fill="#f0a020"/>
<circle cx="148.00" cy="386.00" r="1.75" fill="#f0a020"/>
<circle cx="47.10" cy="386.50" r="1.75" fill="#2d4f98"/>
<circle cx="57.83" cy="385.60" r="1.75" fill="#2d4f98"/>
<circle cx="96.48" cy="385.60" r="1.75" fill="#2d4f98"/>
<circle cx="148.00" cy="385.60" r="1.75" fill="#2d4f98"/>
<circle cx="47.10" cy="386.50" r="1.75" fill="#4a2880"/>
<circle cx="57.83" cy="383.80" r="1.75" fill="#4a2880"/>
<circle cx="96.48" cy="384.30" r="1.75" fill="#4a2880"/>
<circle cx="148.00" cy="384.80" r="1.75" fill="#4a2880"/>
<circle cx="47.10" cy="386.70" r="1.75" fill="#b3123f"/>
<circle cx="57.83" cy="340.40" r="1.75" fill="#b3123f"/>
<circle cx="96.48" cy="350.40" r="1.75" fill="#b3123f"/>
<circle cx="148.00" cy="364.10" r="1.75" fill="#b3123f"/>
<line x1="194.5" y1="315.6" x2="194.5" y2="387.5" stroke="#262626" stroke-width="1.2" />
<line x1="193.9" y1="386.9" x2="299.0" y2="386.9" stroke="#262626" stroke-width="1.2" />
<line x1="191.3" y1="386.9" x2="194.5" y2="386.9" stroke="#444444" stroke-width="0.9" />
<text x="189.1" y="389.5" font-size="7.0" text-anchor="end" font-weight="normal" fill="#242424" >0</text>
<line x1="191.3" y1="369.65" x2="194.5" y2="369.65" stroke="#444444" stroke-width="0.9" />
<text x="189.1" y="372.25" font-size="7.0" text-anchor="end" font-weight="normal" fill="#242424" >10000</text>
<line x1="191.3" y1="352.4" x2="194.5" y2="352.4" stroke="#444444" stroke-width="0.9" />
<text x="189.1" y="355.0" font-size="7.0" text-anchor="end" font-weight="normal" fill="#242424" >20000</text>
<line x1="191.3" y1="335.15" x2="194.5" y2="335.15" stroke="#444444" stroke-width="0.9" />
<text x="189.1" y="337.75" font-size="7.0" text-anchor="end" font-weight="normal" fill="#242424" >30000</text>
<line x1="191.3" y1="317.9" x2="194.5" y2="317.9" stroke="#444444" stroke-width="0.9" />
<text x="189.1" y="320.5" font-size="7.0" text-anchor="end" font-weight="normal" fill="#242424" >40000</text>
<line x1="196.1" y1="386.9" x2="196.1" y2="389.6" stroke="#444444" stroke-width="0.9" />
<text x="196.1" y="398.6" font-size="7.2" text-anchor="middle" font-weight="normal" fill="#242424" >5</text>
<line x1="206.77021276595744" y1="386.9" x2="206.77021276595744" y2="389.6" stroke="#444444" stroke-width="0.9" />
<text x="206.77021276595744" y="398.6" font-size="7.2" text-anchor="middle" font-weight="normal" fill="#242424" >30</text>
<line x1="245.18297872340423" y1="386.9" x2="245.18297872340423" y2="389.6" stroke="#444444" stroke-width="0.9" />
<text x="245.18297872340423" y="398.6" font-size="7.2" text-anchor="middle" font-weight="normal" fill="#242424" >120</text>
<line x1="296.4" y1="386.9" x2="296.4" y2="389.6" stroke="#444444" stroke-width="0.9" />
<text x="296.4" y="398.6" font-size="7.2" text-anchor="middle" font-weight="normal" fill="#242424" >240</text>
<text x="246.8" y="310.2" font-size="9.2" text-anchor="middle" font-weight="normal" fill="#3d3d3d" textLength="18.1" lengthAdjust="spacingAndGlyphs" >Liver</text>
<text transform="translate(247.3,411.5) scale(0.758,1)" x="0" y="0" font-size="9.0" text-anchor="middle" font-weight="normal" fill="#242424" stroke="#242424" stroke-width="0.22" textLength="112.40" lengthAdjust="spacing" >Post-transfusion time (min)</text>
<polyline points="196.10,383.60 206.77,387.00 245.18,383.10 296.40,381.20" fill="none" stroke="#f0a020" stroke-width="1.3" stroke-linejoin="round" />
<polyline points="196.10,383.40 206.77,382.60 245.18,383.00 296.40,383.20" fill="none" stroke="#2d4f98" stroke-width="1.3" stroke-linejoin="round" />
<polyline points="196.10,382.00 206.77,380.00 245.18,382.40 296.40,384.30" fill="none" stroke="#4a2880" stroke-width="1.3" stroke-linejoin="round" />
<polyline points="196.10,362.90 206.77,350.60 245.18,371.70 296.40,378.90" fill="none" stroke="#b3123f" stroke-width="1.3" stroke-linejoin="round" />
<line x1="196.1" y1="355.1" x2="196.1" y2="370.5" stroke="#333" stroke-width="0.9" />
<line x1="194.2" y1="355.1" x2="198.0" y2="355.1" stroke="#333" stroke-width="0.9" />
<line x1="194.2" y1="370.5" x2="198.0" y2="370.5" stroke="#333" stroke-width="0.9" />
<line x1="206.77021276595744" y1="340.4" x2="206.77021276595744" y2="361.3" stroke="#333" stroke-width="0.9" />
<line x1="204.87021276595743" y1="340.4" x2="208.67021276595744" y2="340.4" stroke="#333" stroke-width="0.9" />
<line x1="204.87021276595743" y1="361.3" x2="208.67021276595744" y2="361.3" stroke="#333" stroke-width="0.9" />
<line x1="245.18297872340423" y1="364.8" x2="245.18297872340423" y2="378.4" stroke="#333" stroke-width="0.9" />
<line x1="243.28297872340423" y1="364.8" x2="247.08297872340424" y2="364.8" stroke="#333" stroke-width="0.9" />
<line x1="243.28297872340423" y1="378.4" x2="247.08297872340424" y2="378.4" stroke="#333" stroke-width="0.9" />
<line x1="296.4" y1="376.5" x2="296.4" y2="381.5" stroke="#333" stroke-width="0.9" />
<line x1="294.5" y1="376.5" x2="298.29999999999995" y2="376.5" stroke="#333" stroke-width="0.9" />
<line x1="294.5" y1="381.5" x2="298.29999999999995" y2="381.5" stroke="#333" stroke-width="0.9" />
<line x1="196.1" y1="380.2" x2="196.1" y2="384.2" stroke="#333" stroke-width="0.8" />
<line x1="194.6" y1="380.2" x2="197.6" y2="380.2" stroke="#333" stroke-width="0.8" />
<line x1="194.6" y1="384.2" x2="197.6" y2="384.2" stroke="#333" stroke-width="0.8" />
<line x1="206.77021276595744" y1="378.2" x2="206.77021276595744" y2="382.4" stroke="#333" stroke-width="0.8" />
<line x1="205.27021276595744" y1="378.2" x2="208.27021276595744" y2="378.2" stroke="#333" stroke-width="0.8" />
<line x1="205.27021276595744" y1="382.4" x2="208.27021276595744" y2="382.4" stroke="#333" stroke-width="0.8" />
<line x1="245.18297872340423" y1="380.5" x2="245.18297872340423" y2="384.6" stroke="#333" stroke-width="0.8" />
<line x1="243.68297872340423" y1="380.5" x2="246.68297872340423" y2="380.5" stroke="#333" stroke-width="0.8" />
<line x1="243.68297872340423" y1="384.6" x2="246.68297872340423" y2="384.6" stroke="#333" stroke-width="0.8" />
<line x1="296.4" y1="382.0" x2="296.4" y2="386.0" stroke="#333" stroke-width="0.8" />
<line x1="294.9" y1="382.0" x2="297.9" y2="382.0" stroke="#333" stroke-width="0.8" />
<line x1="294.9" y1="386.0" x2="297.9" y2="386.0" stroke="#333" stroke-width="0.8" />
<circle cx="196.10" cy="383.60" r="1.75" fill="#f0a020"/>
<circle cx="206.77" cy="387.00" r="1.75" fill="#f0a020"/>
<circle cx="245.18" cy="383.10" r="1.75" fill="#f0a020"/>
<circle cx="296.40" cy="381.20" r="1.75" fill="#f0a020"/>
<circle cx="196.10" cy="383.40" r="1.75" fill="#2d4f98"/>
<circle cx="206.77" cy="382.60" r="1.75" fill="#2d4f98"/>
<circle cx="245.18" cy="383.00" r="1.75" fill="#2d4f98"/>
<circle cx="296.40" cy="383.20" r="1.75" fill="#2d4f98"/>
<circle cx="196.10" cy="382.00" r="1.75" fill="#4a2880"/>
<circle cx="206.77" cy="380.00" r="1.75" fill="#4a2880"/>
<circle cx="245.18" cy="382.40" r="1.75" fill="#4a2880"/>
<circle cx="296.40" cy="384.30" r="1.75" fill="#4a2880"/>
<circle cx="196.10" cy="362.90" r="1.75" fill="#b3123f"/>
<circle cx="206.77" cy="350.60" r="1.75" fill="#b3123f"/>
<circle cx="245.18" cy="371.70" r="1.75" fill="#b3123f"/>
<circle cx="296.40" cy="378.90" r="1.75" fill="#b3123f"/>
<line x1="342.8" y1="315.6" x2="342.8" y2="387.5" stroke="#262626" stroke-width="1.2" />
<line x1="342.2" y1="386.9" x2="447.0" y2="386.9" stroke="#262626" stroke-width="1.2" />
<line x1="339.6" y1="386.9" x2="342.8" y2="386.9" stroke="#444444" stroke-width="0.9" />
<text x="337.40000000000003" y="389.5" font-size="7.0" text-anchor="end" font-weight="normal" fill="#242424" >0</text>
<line x1="339.6" y1="369.65" x2="342.8" y2="369.65" stroke="#444444" stroke-width="0.9" />
<text x="337.40000000000003" y="372.25" font-size="7.0" text-anchor="end" font-weight="normal" fill="#242424" >10000</text>
<line x1="339.6" y1="352.4" x2="342.8" y2="352.4" stroke="#444444" stroke-width="0.9" />
<text x="337.40000000000003" y="355.0" font-size="7.0" text-anchor="end" font-weight="normal" fill="#242424" >20000</text>
<line x1="339.6" y1="335.15" x2="342.8" y2="335.15" stroke="#444444" stroke-width="0.9" />
<text x="337.40000000000003" y="337.75" font-size="7.0" text-anchor="end" font-weight="normal" fill="#242424" >30000</text>
<line x1="339.6" y1="317.9" x2="342.8" y2="317.9" stroke="#444444" stroke-width="0.9" />
<text x="337.40000000000003" y="320.5" font-size="7.0" text-anchor="end" font-weight="normal" fill="#242424" >40000</text>
<line x1="344.5" y1="386.9" x2="344.5" y2="389.6" stroke="#444444" stroke-width="0.9" />
<text x="344.5" y="398.6" font-size="7.2" text-anchor="middle" font-weight="normal" fill="#242424" >5</text>
<line x1="355.1489361702128" y1="386.9" x2="355.1489361702128" y2="389.6" stroke="#444444" stroke-width="0.9" />
<text x="355.1489361702128" y="398.6" font-size="7.2" text-anchor="middle" font-weight="normal" fill="#242424" >30</text>
<line x1="393.48510638297876" y1="386.9" x2="393.48510638297876" y2="389.6" stroke="#444444" stroke-width="0.9" />
<text x="393.48510638297876" y="398.6" font-size="7.2" text-anchor="middle" font-weight="normal" fill="#242424" >120</text>
<line x1="444.6" y1="386.9" x2="444.6" y2="389.6" stroke="#444444" stroke-width="0.9" />
<text x="444.6" y="398.6" font-size="7.2" text-anchor="middle" font-weight="normal" fill="#242424" >240</text>
<text x="395.2" y="310.2" font-size="9.2" text-anchor="middle" font-weight="normal" fill="#3d3d3d" textLength="53" lengthAdjust="spacingAndGlyphs" >Bone marrow</text>
<text transform="translate(395.4,411.7) scale(0.758,1)" x="0" y="0" font-size="9.0" text-anchor="middle" font-weight="normal" fill="#242424" stroke="#242424" stroke-width="0.22" textLength="109.76" lengthAdjust="spacing" >Post-transfusion time (min)</text>
<polyline points="344.50,386.60 355.15,386.60 393.49,386.60 444.60,386.60" fill="none" stroke="#f0a020" stroke-width="1.3" stroke-linejoin="round" />
<polyline points="344.50,386.60 355.15,386.60 393.49,386.60 444.60,386.60" fill="none" stroke="#2d4f98" stroke-width="1.3" stroke-linejoin="round" />
<polyline points="344.50,386.60 355.15,386.60 393.49,386.60 444.60,386.60" fill="none" stroke="#5a2a88" stroke-width="1.3" stroke-linejoin="round" />
<polyline points="344.50,386.60 355.15,386.00 393.49,386.20 444.60,386.40" fill="none" stroke="#b3123f" stroke-width="1.6" stroke-linejoin="round" />
<circle cx="344.50" cy="386.60" r="1.9" fill="#b3123f"/>
<circle cx="355.15" cy="386.00" r="1.9" fill="#b3123f"/>
<circle cx="393.49" cy="386.20" r="1.9" fill="#b3123f"/>
<circle cx="444.60" cy="386.40" r="1.9" fill="#b3123f"/>
<line x1="434.9" y1="324.9" x2="444.2" y2="324.9" stroke="#c8406a" stroke-width="1.8" />
<circle cx="439.50" cy="324.90" r="1.3" fill="#a0102e"/>
<line x1="434.9" y1="334.2" x2="444.2" y2="334.2" stroke="#7a4aa0" stroke-width="1.8" />
<circle cx="439.50" cy="334.20" r="1.3" fill="#4a1a78"/>
<line x1="434.9" y1="349.7" x2="444.2" y2="349.7" stroke="#4a64a8" stroke-width="1.8" />
<circle cx="439.50" cy="349.70" r="1.3" fill="#1e3a80"/>
<line x1="434.9" y1="358.9" x2="444.2" y2="358.9" stroke="#f0b050" stroke-width="1.8" />
<circle cx="439.50" cy="358.90" r="1.3" fill="#e08a10"/>
<text x="446.9" y="327.1" font-size="6.3" text-anchor="start" font-weight="normal" fill="#3d3d3d" textLength="34" lengthAdjust="spacingAndGlyphs" >Macrophages</text>
<text x="446.9" y="336.4" font-size="6.3" text-anchor="start" font-weight="normal" fill="#3d3d3d" textLength="32.6" lengthAdjust="spacingAndGlyphs" >Inflammatory</text>
<text x="446.9" y="342.7" font-size="6.3" text-anchor="start" font-weight="normal" fill="#3d3d3d" textLength="27.4" lengthAdjust="spacingAndGlyphs" >monocytes</text>
<text x="446.9" y="351.9" font-size="6.3" text-anchor="start" font-weight="normal" fill="#3d3d3d" textLength="27.7" lengthAdjust="spacingAndGlyphs" >Monocytes</text>
<text x="446.9" y="361.1" font-size="6.3" text-anchor="start" font-weight="normal" fill="#3d3d3d" textLength="33.1" lengthAdjust="spacingAndGlyphs" >Granulocytes</text>
<rect x="0.6" y="0.6" width="518.8" height="419.8" fill="none" stroke="#000" stroke-width="1.4"/>
</svg>
</body></html>
